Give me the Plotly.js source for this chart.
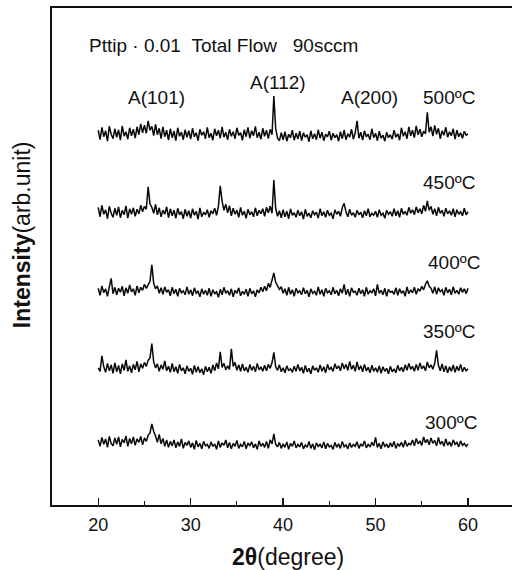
<!DOCTYPE html>
<html>
<head>
<meta charset="utf-8">
<script src="https://cdn.plot.ly/plotly-3.0.1.min.js"></script>
<style>html,body{margin:0;padding:0;background:#fff;}#chart{width:512px;height:570px;}</style>
</head>
<body>
<div id="chart"></div>
<script>
// 2theta sampling grid (degrees), 20 to 60 in 0.2 steps
const twoTheta = Array.from({length: 201}, (_, i) => (200 + 2 * i) / 10);

const temperatures = ["300ºC", "350ºC", "400ºC", "450ºC", "500ºC"];

const int500 = [
 3.9,2.0,4.5,2.6,3.8,1.7,4.7,3.1,2.2,4.2,
 2.5,4.0,1.9,4.8,2.7,3.6,2.1,4.4,2.8,4.1,
 2.3,4.6,3.0,5.2,3.4,4.9,3.3,5.8,3.9,4.7,
 2.8,5.1,3.0,4.3,2.2,4.6,2.6,3.9,1.9,4.2,
 2.4,3.7,1.8,4.4,2.7,3.5,2.0,4.0,2.5,3.8,
 2.1,4.3,2.6,3.4,1.8,4.1,2.9,3.6,2.2,4.5,
 2.4,3.3,1.9,4.2,2.8,3.9,2.3,4.6,2.5,3.5,
 2.0,4.1,2.7,3.6,2.2,4.4,2.9,3.4,1.9,4.0,
 2.6,4.5,2.3,3.8,2.8,4.7,2.4,3.5,2.1,4.3,
 2.7,3.9,2.2,4.1,3.0,10.8,4.2,2.3,1.8,3.4,
 2.0,3.6,1.7,3.1,2.4,3.9,1.9,3.3,2.2,3.7,
 1.8,3.4,2.5,3.0,1.6,3.8,2.2,3.2,2.0,4.0,
 2.3,3.5,1.8,3.1,2.6,3.7,1.9,3.3,2.4,3.0,
 1.7,3.6,2.2,3.9,2.0,3.2,2.5,4.1,2.1,3.4,
 5.8,2.3,3.5,1.9,3.8,2.6,3.1,2.0,4.2,2.4,
 3.3,1.8,3.7,2.3,2.9,1.7,3.5,2.4,3.0,2.1,
 3.9,2.5,3.2,1.9,4.4,2.7,3.6,2.2,4.6,2.8,
 3.9,2.4,4.8,3.0,4.1,2.6,3.7,3.2,7.5,3.5,
 4.6,2.7,4.9,3.1,4.3,2.2,3.8,2.9,4.5,2.5,
 3.6,2.8,4.2,2.1,3.9,2.6,3.4,2.3,3.7,2.9,
 3.2];

const int450 = [
 4.2,2.3,4.6,2.8,3.7,1.9,4.4,3.0,2.2,4.0,
 2.6,4.3,2.1,3.6,2.7,4.5,2.0,3.9,2.8,4.1,
 2.4,3.8,2.9,4.6,3.3,4.4,3.8,8.3,4.9,4.2,
 3.0,4.8,2.7,4.1,2.3,3.6,2.8,4.3,2.1,3.9,
 2.5,3.6,2.0,4.0,2.7,3.3,1.9,3.8,2.4,3.5,
 2.0,3.9,2.6,3.4,1.8,4.1,2.3,3.2,2.7,3.7,
 2.2,3.5,2.9,4.0,2.6,4.4,8.5,5.4,3.6,4.8,
 3.1,4.5,2.5,4.0,2.8,3.6,2.2,4.2,2.6,3.4,
 2.0,3.8,2.7,3.3,2.3,4.1,2.5,3.6,2.9,3.9,
 2.4,4.2,3.1,4.4,3.0,9.7,3.9,2.4,3.5,2.1,
 3.7,2.3,3.4,1.9,3.9,2.6,3.1,2.2,3.6,2.5,
 3.3,1.8,3.8,2.4,3.0,2.1,3.5,2.7,3.2,2.0,
 3.9,2.5,3.3,2.2,3.6,2.6,3.0,1.9,3.7,2.8,
 3.4,2.4,4.1,5.0,3.3,2.3,3.8,2.6,3.1,2.2,
 3.6,2.7,3.2,2.1,3.5,2.5,3.9,2.3,3.0,2.6,
 3.4,2.2,3.7,2.6,3.0,2.0,3.6,2.8,3.3,2.4,
 3.9,2.5,3.5,2.2,4.0,2.8,3.4,2.6,4.2,3.0,
 3.7,2.7,4.3,3.1,3.9,2.9,4.6,3.4,5.5,3.6,
 4.4,2.8,3.9,2.5,4.2,3.0,3.6,2.4,4.0,2.9,
 3.5,2.6,3.9,2.3,3.7,2.8,3.3,2.5,4.0,2.7,
 3.3];

const int400 = [
 3.6,2.2,4.1,2.7,3.5,2.0,3.9,5.6,2.5,3.8,
 2.3,3.6,2.8,4.0,2.1,3.7,2.6,4.3,2.9,3.5,
 2.2,4.1,2.7,3.8,3.2,4.4,3.6,4.2,5.0,8.3,
 4.6,3.5,4.1,2.6,3.7,2.4,3.9,2.8,3.3,2.1,
 3.8,2.5,3.4,2.0,3.6,2.7,3.1,2.3,3.9,2.4,
 3.3,2.1,3.7,2.6,3.0,1.9,3.5,2.4,3.2,2.2,
 3.6,2.0,3.3,2.5,2.9,1.8,3.4,2.3,3.8,2.6,
 3.1,2.2,3.5,1.9,3.2,2.6,3.7,2.1,3.0,2.4,
 3.4,2.0,3.6,2.5,3.1,1.9,3.3,2.7,3.8,2.9,
 4.0,3.1,4.6,3.8,5.1,6.7,4.8,4.2,3.4,3.9,
 2.6,3.5,2.2,3.8,2.4,3.3,2.0,3.6,2.7,3.1,
 2.3,3.7,2.5,3.2,1.9,3.5,2.6,3.0,2.2,3.9,
 2.4,3.3,2.0,3.6,2.7,3.1,2.3,3.8,2.5,3.2,
 2.1,3.5,2.6,4.4,2.3,3.4,2.0,3.7,2.8,3.0,
 2.2,3.6,2.5,3.3,2.0,3.8,2.4,3.1,2.7,3.5,
 2.1,4.4,2.6,3.2,2.3,3.6,2.0,3.4,2.8,3.0,
 2.4,3.7,2.2,3.5,2.6,3.1,2.0,3.9,2.5,3.3,
 2.7,3.8,2.4,3.5,3.0,4.0,3.3,4.4,5.1,4.0,
 3.6,2.6,3.9,2.4,3.7,2.9,3.3,2.2,3.8,2.7,
 3.4,2.3,3.9,2.6,3.2,2.4,3.7,2.8,3.5,2.5,
 3.6];

const int350 = [
 3.2,2.5,5.6,3.4,2.3,4.1,2.6,3.8,2.1,4.2,
 2.4,3.7,2.0,4.0,2.7,4.8,2.5,3.6,2.2,3.9,
 2.8,4.5,2.4,4.0,3.1,4.3,3.5,4.7,5.2,8.1,
 4.4,3.2,4.0,2.5,3.8,2.9,4.6,2.6,3.5,2.3,
 4.1,2.4,3.4,2.1,3.9,2.6,3.2,2.0,3.6,2.5,
 3.1,1.9,3.7,2.3,3.4,2.2,3.0,1.8,3.5,2.4,
 3.3,2.1,3.8,2.6,4.2,3.0,6.4,3.3,4.1,2.8,
 3.6,2.9,7.0,3.5,4.3,2.7,3.8,2.5,4.0,2.6,
 3.3,2.3,3.9,2.7,3.5,2.4,4.1,2.8,3.4,2.5,
 3.7,2.6,3.9,3.1,4.2,6.3,3.4,2.7,3.8,2.4,
 3.2,2.2,3.6,2.7,3.0,2.3,3.5,2.5,3.9,2.6,
 3.3,2.1,3.7,2.4,3.1,2.0,3.6,2.7,3.2,2.3,
 3.8,2.5,3.4,2.2,3.9,2.8,3.3,2.5,4.0,3.0,
 3.6,2.6,4.2,3.0,3.9,2.7,4.5,2.9,3.7,2.5,
 4.4,2.8,3.6,2.4,3.9,2.6,3.3,2.2,3.7,2.5,
 3.2,2.3,3.6,2.1,3.4,2.5,3.1,2.0,3.5,2.4,
 3.0,2.2,3.7,2.6,3.3,2.4,3.8,2.7,4.1,2.9,
 3.5,2.5,3.9,2.7,4.2,3.0,3.6,2.6,4.4,3.2,
 3.8,2.9,4.1,6.7,3.7,2.6,4.0,2.4,3.6,2.2,
 3.4,2.5,3.8,2.3,3.5,2.6,3.9,2.4,3.3,2.6,
 3.0];

const int300 = [
 3.9,2.6,4.4,3.0,4.1,2.4,4.6,3.2,2.7,4.3,
 3.0,4.5,2.5,4.0,3.3,4.7,2.6,4.2,3.1,4.5,
 2.8,4.1,3.4,4.6,2.9,4.3,3.6,4.8,5.3,7.1,
 5.6,4.7,3.4,5.0,3.1,4.2,2.6,3.9,2.4,3.6,
 2.7,3.9,2.3,3.5,2.6,4.1,2.2,3.4,2.8,3.7,
 2.4,3.3,2.0,3.8,2.5,3.2,2.1,3.6,2.7,3.0,
 2.2,3.5,2.6,3.1,2.0,3.7,2.4,3.3,2.8,3.9,
 2.3,3.4,2.1,3.2,2.6,3.8,2.2,3.0,2.5,3.6,
 2.1,3.3,2.7,3.5,2.3,3.1,2.0,3.7,2.6,3.2,
 2.4,3.6,2.2,3.9,3.1,5.1,3.0,2.5,3.4,2.2,
 3.1,2.4,3.5,2.0,3.2,2.6,3.7,2.3,3.0,2.5,
 3.4,2.1,2.9,2.4,3.6,2.2,3.1,1.9,3.3,2.6,
 3.0,2.3,3.5,2.1,3.2,2.5,2.8,2.0,3.4,2.4,
 3.1,2.2,3.6,2.5,2.9,2.1,3.3,2.4,3.0,2.6,
 3.5,2.2,3.1,2.6,3.7,2.3,3.0,2.5,3.4,2.7,
 4.4,2.4,3.2,2.1,3.5,2.6,3.0,2.3,3.3,2.5,
 3.6,2.2,3.1,2.7,3.4,2.4,3.8,2.6,3.2,2.9,
 3.9,2.7,4.2,3.1,3.7,2.8,4.5,3.3,4.0,2.9,
 4.3,3.2,3.8,2.7,4.4,3.0,3.6,2.6,4.1,2.8,
 3.5,2.6,3.9,3.0,3.4,2.5,3.7,2.8,3.2,2.6,
 3.1];

const peakLabels = ["A(101)", "A(112)", "A(200)"];
const peakLabelPos = [26.35, 39.43, 49.38];

// ---- drawing ----
const series = [int300, int350, int400, int450, int500];
const stackOffset = [9.2, 24.4, 40.0, 55.7, 71.5];

const traces = series.map((s, k) => ({
  x: twoTheta,
  y: s.map(v => v + stackOffset[k]),
  type: "scatter",
  mode: "lines",
  name: temperatures[k],
  line: {color: "#080808", width: 1.5},
  showlegend: false,
  hoverinfo: "skip"
}));

const font = "Liberation Sans, Arial, Helvetica, sans-serif";
const txt = "#111";

const annotations = [];
peakLabels.forEach((t, i) => {
  annotations.push({x: peakLabelPos[i], y: i === 1 ? 85.1 : 81.9, xref: "x", yref: "y",
    xanchor: "center", yanchor: "middle",
    text: t, showarrow: false, font: {family: font, size: 19, color: txt}});
});
const tempLabelX = [58.14, 57.92, 58.46, 57.92, 57.92];
const tempLabelY = [16.7, 35.0, 48.7, 64.8, 81.9];
temperatures.forEach((t, k) => {
  annotations.push({x: tempLabelX[k], y: tempLabelY[k], xref: "x", yref: "y",
    xanchor: "center", yanchor: "middle",
    text: t, showarrow: false, font: {family: font, size: 19, color: txt}});
});
annotations.push({x: 18.78, y: 92.4, xref: "x", yref: "y", xanchor: "left", yanchor: "middle",
  text: "Pttip · 0.01\u00a0\u00a0Total Flow\u00a0\u00a0\u00a090sccm",
  showarrow: false, font: {family: font, size: 19, color: txt}});
annotations.push({x: 0.513, y: -0.1046, xref: "paper", yref: "paper",
  xanchor: "center", yanchor: "middle",
  text: "<b>2θ</b>(degree)", showarrow: false,
  font: {family: font, size: 23, color: txt}});
annotations.push({x: -0.0652, y: 0.543, xref: "paper", yref: "paper", textangle: -90,
  xanchor: "center", yanchor: "middle",
  text: "<b>Intensity</b>(arb.unit)", showarrow: false,
  font: {family: font, size: 23, color: txt}});

const layout = {
  width: 512, height: 570,
  margin: {l: 52, r: 0, t: 8, b: 65},
  paper_bgcolor: "#fff", plot_bgcolor: "#fff",
  showlegend: false,
  xaxis: {
    range: [15, 64.76], tick0: 20, dtick: 10, ticks: "inside", ticklen: 7, tickwidth: 1.3,
    tickcolor: "#111", showline: true, linecolor: "#111", linewidth: 1.6, mirror: true,
    showgrid: false, zeroline: false, ticklabelstandoff: 3,
    tickfont: {family: font, size: 18, color: txt},
    minor: {dtick: 5, ticks: "inside", ticklen: 4, tickcolor: "#111", tickwidth: 1}
  },
  yaxis: {
    range: [0, 100], showticklabels: false, ticks: "", showline: true,
    linecolor: "#111", linewidth: 1.6, showgrid: false, zeroline: false
  },
  annotations: annotations
};

Plotly.newPlot("chart", traces, layout, {displayModeBar: false, staticPlot: true});
</script>
</body>
</html>
